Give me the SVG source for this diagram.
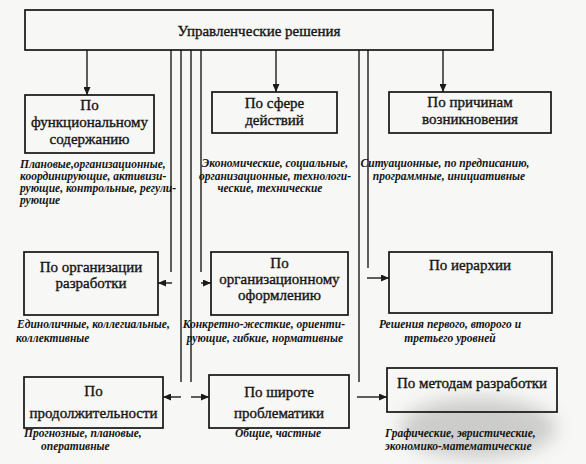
<svg xmlns="http://www.w3.org/2000/svg" width="586" height="464" viewBox="0 0 586 464" font-family="Liberation Serif, Times New Roman, DejaVu Serif, serif">
<defs>
<style>
text{fill:#141414}
.box{fill:none;stroke:#151515;stroke-width:1.7}
.t{font-size:15px;text-anchor:middle;stroke:#141414;stroke-width:0.35}
.i{font-size:11.5px;font-style:italic;font-weight:bold}
.m{text-anchor:middle}
.e{text-anchor:end}
.c{fill:none;stroke:#1a1a1a;stroke-width:1.4}
.a{marker-end:url(#ah)}
</style>
<marker id="ah" markerUnits="userSpaceOnUse" markerWidth="8" markerHeight="7" refX="8" refY="3.5" orient="auto"><path d="M0,0 L8,3.5 L0,7 z" fill="#1a1a1a"/></marker>
<filter id="blur" x="-50%" y="-50%" width="200%" height="200%"><feGaussianBlur stdDeviation="9"/></filter>
</defs>
<rect width="586" height="464" fill="#f7f7f5"/>
<ellipse cx="478" cy="428" rx="78" ry="30" fill="#9a9a9a" opacity="0.45" filter="url(#blur)"/>

<g id="connectors">
<path class="c a" d="M87,50 V95"/>
<path class="c a" d="M276,50 V92"/>
<path class="c a" d="M443,50 V92"/>
<path class="c" d="M171,50 V272"/>
<path class="c a" d="M172,283 H158"/>
<path class="c" d="M181,50 V382"/>
<path class="c a" d="M181,397 H163"/>
<path class="c" d="M191,50 V382"/>
<path class="c a" d="M191,397 H209"/>
<path class="c" d="M201,50 V272"/>
<path class="c a" d="M201,283 H211"/>
<path class="c" d="M359,50 V382"/>
<path class="c a" d="M357,397 H387"/>
<path class="c" d="M368,50 V268"/>
<path class="c a" d="M367,278 H389"/>
</g>

<g id="root">
<rect class="box" x="25" y="10" width="468" height="40"/>
<text class="t" x="259" y="36" font-size="18">Управленческие решения</text>
</g>

<g id="functional">
<rect class="box" x="25" y="95" width="129" height="58"/>
<text class="t" x="89.5" y="110">По</text>
<text class="t" x="89.5" y="127">функциональному</text>
<text class="t" x="89.5" y="144">содержанию</text>
<text class="i" x="20" y="168">Плановые,организационные,</text>
<text class="i" x="20" y="180">координирующие, активизи-</text>
<text class="i" x="20" y="192">рующие, контрольные, регули-</text>
<text class="i" x="20" y="204">рующие</text>
</g>

<g id="sphere">
<rect class="box" x="212" y="92" width="125" height="41"/>
<text class="t" x="274.5" y="108">По сфере</text>
<text class="t" x="274.5" y="125">действий</text>
<text class="i m" x="275" y="167">Экономические, социальные,</text>
<text class="i m" x="275" y="180">организационные, технологи-</text>
<text class="i m" x="270" y="192">ческие, технические</text>
</g>

<g id="causes">
<rect class="box" x="389" y="92" width="162" height="41"/>
<text class="t" x="470" y="107">По причинам</text>
<text class="t" x="470" y="124">возникновения</text>
<text class="i m" x="445" y="167">Ситуационные, по предписанию,</text>
<text class="i m" x="449" y="180">программные, инициативные</text>
</g>

<g id="organization">
<rect class="box" x="24" y="252" width="134" height="63"/>
<text class="t" x="91" y="272">По организации</text>
<text class="t" x="91" y="288">разработки</text>
<text class="i" x="17" y="328">Единоличные, коллегиальные,</text>
<text class="i" x="16" y="342">коллективные</text>
</g>

<g id="formalization">
<rect class="box" x="211" y="252" width="137" height="63"/>
<text class="t" x="279.5" y="268">По</text>
<text class="t" x="279.5" y="284">организационному</text>
<text class="t" x="279.5" y="300">оформлению</text>
<text class="i e" x="345" y="328">Конкретно-жесткие, ориенти-</text>
<text class="i e" x="343" y="342">рующие, гибкие, нормативные</text>
</g>

<g id="hierarchy">
<rect class="box" x="389" y="252" width="163" height="61"/>
<text class="t" x="470" y="270">По иерархии</text>
<text class="i m" x="450" y="328">Решения первого, второго и</text>
<text class="i m" x="450" y="342">третьего  уровней</text>
</g>

<g id="duration">
<rect class="box" x="24" y="377" width="139" height="51"/>
<text class="t" x="93.5" y="396" font-size="16">По</text>
<text class="t" x="93.5" y="418" font-size="16">продолжительности</text>
<text class="i" x="24" y="437">Прогнозные, плановые,</text>
<text class="i" x="41" y="450">оперативные</text>
</g>

<g id="scope">
<rect class="box" x="209" y="375" width="140" height="53"/>
<text class="t" x="279" y="397" font-size="16">По широте</text>
<text class="t" x="279" y="418" font-size="16">проблематики</text>
<text class="i m" x="278" y="437">Общие, частные</text>
</g>

<g id="methods">
<rect class="box" x="387" y="368" width="170" height="44"/>
<text class="t" x="472" y="388" font-size="16">По методам разработки</text>
<text class="i" x="385" y="437">Графические, эвристические,</text>
<text class="i" x="385" y="450">экономико-математические</text>
</g>
</svg>
